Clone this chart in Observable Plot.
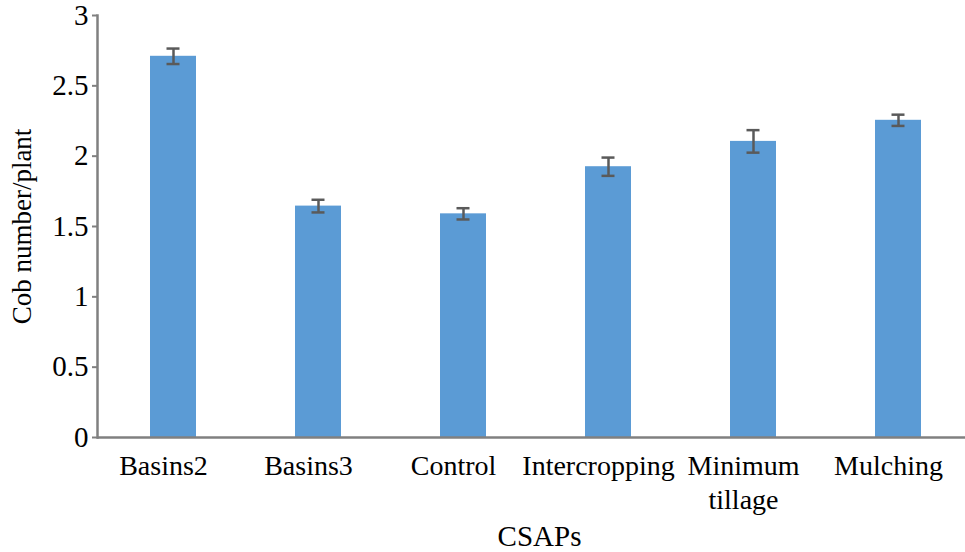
<!DOCTYPE html>
<html>
<head>
<meta charset="utf-8">
<script src="https://cdn.jsdelivr.net/npm/d3@7"></script>
<script src="https://cdn.jsdelivr.net/npm/@observablehq/plot@0.6"></script>
<style>
  html, body { margin: 0; padding: 0; background: #fff; }
  #chart svg { display: block; }
</style>
</head>
<body>
<div id="chart"></div>
<script>
const categories = ["Basins2", "Basins3", "Control", "Intercropping", "Minimum tillage", "Mulching"];
const tickLabels = ["Basins2", "Basins3", "Control", "Intercropping", "Minimum\ntillage", "Mulching"];
const means = [2.71, 1.645, 1.59, 1.925, 2.105, 2.255];
const errors = [0.055, 0.045, 0.04, 0.065, 0.08, 0.04];
const yTicks = [0, 0.5, 1, 1.5, 2, 2.5, 3];
const xTitle = "CSAPs";
const yTitle = "Cob number/plant";

const data = categories.map((c, i) => ({cat: c, mean: means[i], lo: means[i] - errors[i], hi: means[i] + errors[i]}));
const labelOf = new Map(categories.map((c, i) => [c, tickLabels[i]]));

const font = "'Liberation Serif', 'Times New Roman', Times, serif";
const axisGray = "#808080";
const errColor = "#5a5a5a";

const chart = Plot.plot({
  width: 965,
  height: 552,
  marginLeft: 97,
  marginRight: 0,
  marginTop: 15,
  marginBottom: 115,
  style: {fontFamily: font, fontSize: "29px", color: "#000", background: "#fff"},
  x: {domain: categories, paddingInner: 0.684, paddingOuter: 0.323, align: 0.55},
  y: {domain: [0, 3]},
  marks: [
    Plot.barY(data, {x: "cat", y: "mean", fill: "#5b9bd5"}),
    Plot.ruleX(data, {x: "cat", y1: "lo", y2: "hi", stroke: errColor, strokeWidth: 2.5}),
    Plot.tickY(data, {x: "cat", y: "lo", stroke: errColor, strokeWidth: 2.5, inset: 16.5}),
    Plot.tickY(data, {x: "cat", y: "hi", stroke: errColor, strokeWidth: 2.5, inset: 16.5}),
    Plot.ruleY([0], {stroke: axisGray, strokeWidth: 2.5}),
    Plot.frame({anchor: "left", stroke: axisGray, strokeWidth: 2.5}),
    Plot.axisY({ticks: yTicks, tickSize: 5, tickPadding: 4, stroke: axisGray, strokeWidth: 2, tickFormat: d => `${d}`, label: null, fontSize: 29, fill: "#000"}),
    Plot.axisX({tickSize: 0, tickPadding: 13, dx: -10, tickFormat: d => labelOf.get(d), label: null, fontSize: 28, lineHeight: 1.22, fill: "#000"}),
    Plot.text([yTitle], {frameAnchor: "left", textAnchor: "middle", rotate: -90, dx: -75, fontSize: 27, fill: "#000"}),
    Plot.text([xTitle], {frameAnchor: "bottom", dy: 108, dx: 8, fontSize: 29, fill: "#000"})
  ]
});
document.getElementById("chart").appendChild(chart);
</script>
</body>
</html>
